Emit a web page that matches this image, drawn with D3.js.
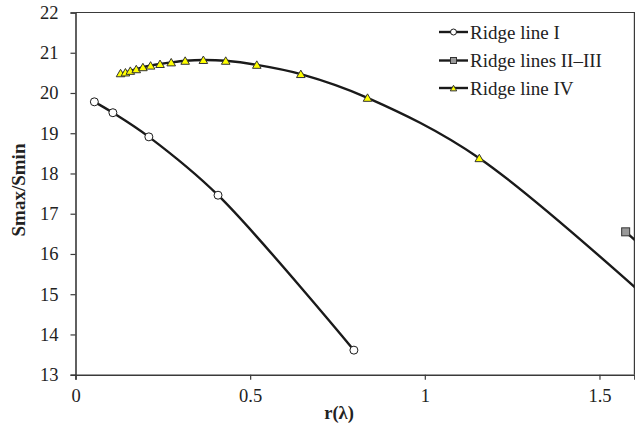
<!DOCTYPE html>
<html>
<head>
<meta charset="utf-8">
<script src="https://cdn.jsdelivr.net/npm/d3@7"></script>
<style>
  body { margin: 0; background: #fff; }
  svg { display: block; font-family: "Liberation Serif", "Times New Roman", serif; }
</style>
</head>
<body>
<svg id="chart" width="635" height="424"></svg>
<script>
// values
let ridge1X = [0.054, 0.107, 0.210, 0.408, 0.797];
let ridge1Y = [19.78, 19.51, 18.91, 17.46, 13.61];

// second point lies past the right edge of the plot (clipped)
let ridge23X = [1.575, 1.70];
let ridge23Y = [16.55, 15.59];

// last point lies past the right edge of the plot (clipped)
let ridge4X = [0.129, 0.143, 0.157, 0.174, 0.193, 0.215, 0.242, 0.274, 0.314, 0.366, 0.430, 0.519, 0.645, 0.836, 1.156, 1.80];
let ridge4Y = [20.49, 20.51, 20.55, 20.59, 20.64, 20.68, 20.72, 20.76, 20.80, 20.82, 20.80, 20.70, 20.47, 19.88, 18.38, 13.62];

let xTicks = [0, 0.5, 1, 1.5];
let yTicks = [13, 14, 15, 16, 17, 18, 19, 20, 21, 22];
let legendNames = ["Ridge line I", "Ridge lines II\u2013III", "Ridge line IV"];

let margin = {left: 75.5, right: 0.6, top: 12.5, bottom: 49.3};
let width = 635, height = 424;

let svg = d3.select("#chart");

let x = d3.scaleLinear().domain([0, 1.6]).range([margin.left, width - margin.right]);
let y = d3.scaleLinear().domain([13, 22]).range([height - margin.bottom, margin.top]);

// clip to plot area
svg.append("clipPath").attr("id", "plotclip")
  .append("rect")
  .attr("x", x(0)).attr("y", y(22))
  .attr("width", x(1.6) - x(0)).attr("height", y(13) - y(22));

// plot border (top and right)
svg.append("path")
  .attr("d", `M${x(0)},${y(22)}H${x(1.6)}V${y(13)}`)
  .attr("fill", "none").attr("stroke", "#3a3a3a").attr("stroke-width", 1.2);

// axes
let xAxis = svg.append("g")
  .attr("transform", `translate(0,${y(13)})`)
  .call(d3.axisBottom(x).tickValues(xTicks).tickSize(5).tickPadding(9).tickFormat(d3.format("")));
let yAxis = svg.append("g")
  .attr("transform", `translate(${x(0)},0)`)
  .call(d3.axisLeft(y).tickValues(yTicks).tickSize(5).tickPadding(12).tickFormat(d3.format("d")));

[xAxis, yAxis].forEach(ax => {
  ax.attr("font-family", null).attr("font-size", null);
  ax.select(".domain").attr("stroke", "#3a3a3a").attr("stroke-width", 1.6);
  ax.selectAll(".tick line").attr("stroke", "#3a3a3a").attr("stroke-width", 1.2);
  ax.selectAll(".tick text")
    .attr("fill", "#222")
    .attr("font-family", "Liberation Serif, serif")
    .attr("font-size", "18.5px");
});

// axis titles
svg.append("text")
  .attr("x", 339).attr("y", 419)
  .attr("text-anchor", "middle")
  .style("font-weight", "bold").style("font-size", "18.5px")
  .attr("fill", "#222")
  .text("r(\u03bb)");

svg.append("text")
  .attr("transform", `translate(25,190) rotate(-90)`)
  .attr("text-anchor", "middle")
  .style("font-weight", "bold").style("font-size", "19px")
  .attr("fill", "#222")
  .text("Smax/Smin");

// series
let line = d3.line()
  .x(d => x(d[0]))
  .y(d => y(d[1]))
  .curve(d3.curveCatmullRom.alpha(0.5));

let series = [
  {name: legendNames[0], pts: d3.zip(ridge1X, ridge1Y), marker: "circle"},
  {name: legendNames[1], pts: d3.zip(ridge23X, ridge23Y), marker: "square"},
  {name: legendNames[2], pts: d3.zip(ridge4X, ridge4Y), marker: "triangle"}
];

let plot = svg.append("g").attr("clip-path", "url(#plotclip)");

function drawMarker(g, type, cx, cy, s) {
  if (type == "circle") {
    g.append("circle").attr("cx", cx).attr("cy", cy).attr("r", 4 * s)
      .attr("fill", "#fff").attr("stroke", "#1a1a1a").attr("stroke-width", 1);
  } else if (type == "square") {
    let h = 4 * s;
    g.append("rect").attr("x", cx - h).attr("y", cy - h).attr("width", 2 * h).attr("height", 2 * h)
      .attr("fill", "#999").attr("stroke", "#333").attr("stroke-width", 1);
  } else {
    let sym = d3.symbol().type(d3.symbolTriangle).size(32 * s * s);
    g.append("path").attr("d", sym()).attr("transform", `translate(${cx},${cy + 1})`)
      .attr("fill", "#ffff00").attr("stroke", "#333").attr("stroke-width", 1);
  }
}

series.forEach(s => {
  plot.append("path")
    .datum(s.pts)
    .attr("d", line)
    .attr("fill", "none")
    .attr("stroke", "#1a1a1a")
    .attr("stroke-width", 2.4);
});
series.forEach(s => {
  s.pts.forEach(p => drawMarker(plot, s.marker, x(p[0]), y(p[1]), 1));
});

// legend
let legendY = [32, 60.5, 88];
series.forEach((s, i) => {
  let g = svg.append("g");
  g.append("line")
    .attr("x1", 439).attr("x2", 468)
    .attr("y1", legendY[i]).attr("y2", legendY[i])
    .attr("stroke", "#1a1a1a").attr("stroke-width", 2.4);
  drawMarker(g, s.marker, 453.5, legendY[i], 0.75);
  g.append("text")
    .attr("x", 470).attr("y", legendY[i] + 6.5)
    .style("font-size", "19px")
    .attr("fill", "#222")
    .text(s.name);
});
</script>
</body>
</html>
